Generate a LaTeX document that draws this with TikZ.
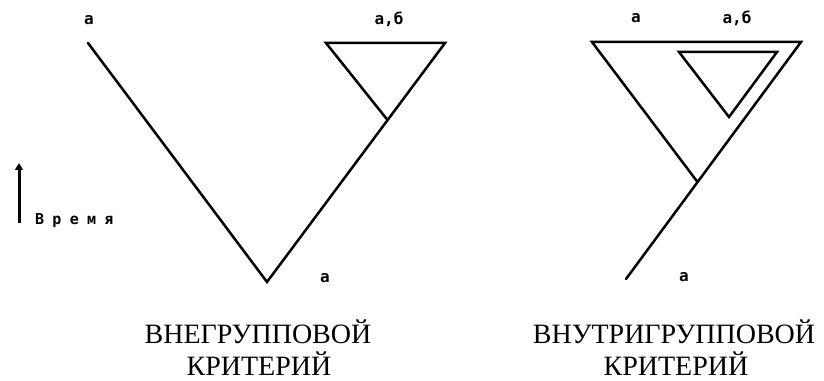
\documentclass[tikz,border=0pt]{standalone}
\usepackage{fontspec}
\setmainfont{Liberation Serif}
\newfontfamily\labfont{DejaVu Sans Mono Bold}
\newfontfamily\timefont[LetterSpace=55]{DejaVu Sans Mono Bold}
\usetikzlibrary{arrows.meta}
\begin{document}
\begin{tikzpicture}[x=1pt,y=1pt,
  branch/.style={line width=2.5pt, line join=miter, line cap=round},
  lab/.style={inner sep=0pt, font=\labfont\fontsize{16}{16}\selectfont},
  title/.style={inner sep=0pt, anchor=base, font=\fontsize{28}{28}\selectfont}]
\useasboundingbox (0,0) rectangle (824,380);
% ---- left diagram
\coordinate (LA) at (88,337);
\coordinate (LV) at (267,98);
\coordinate (LB) at (387.5,260);
\coordinate (LTL) at (326,337);
\coordinate (LTR) at (445,337);
\draw[branch] (LA) -- (LV) -- (LTR) -- (LTL) -- (LB);
\node[lab] (la1) at (89,360) {а};
\node[lab] (la2) at (389,361) {а,б};
\node[lab] (la3) at (325,102) {а};
% ---- right diagram
\coordinate (RTL) at (592,338);
\coordinate (RTR) at (801,338);
\coordinate (RB) at (697.5,198);
\coordinate (RE) at (626,101);
\coordinate (ITL) at (679,328);
\coordinate (ITR) at (777,328);
\coordinate (IB) at (729,263);
\draw[branch] (RB) -- (RTL) -- (RTR) -- (RE);
\draw[branch] (ITL) -- (ITR) -- (IB) -- cycle;
\node[lab] (ra1) at (636,362) {а};
\node[lab] (ra2) at (737,362) {а,б};
\node[lab] (ra3) at (684,103) {а};
% ---- time arrow
\coordinate (T0) at (19,157);
\coordinate (T1) at (19,217);
\draw[line width=3pt, -{Triangle[width=8pt,length=7pt]}] (T0) -- (T1);
\node[inner sep=0pt, anchor=base west, font=\timefont\fontsize{15}{15}\selectfont] (time) at (35,155) {Время};
% ---- titles
\node[title] (lt1) at (258,37) {ВНЕГРУППОВОЙ};
\node[title] (lt2) at (259,5) {КРИТЕРИЙ};
\node[title] (rt1) at (674,37) {ВНУТРИГРУППОВОЙ};
\node[title] (rt2) at (676,5) {КРИТЕРИЙ};
\end{tikzpicture}
\end{document}
